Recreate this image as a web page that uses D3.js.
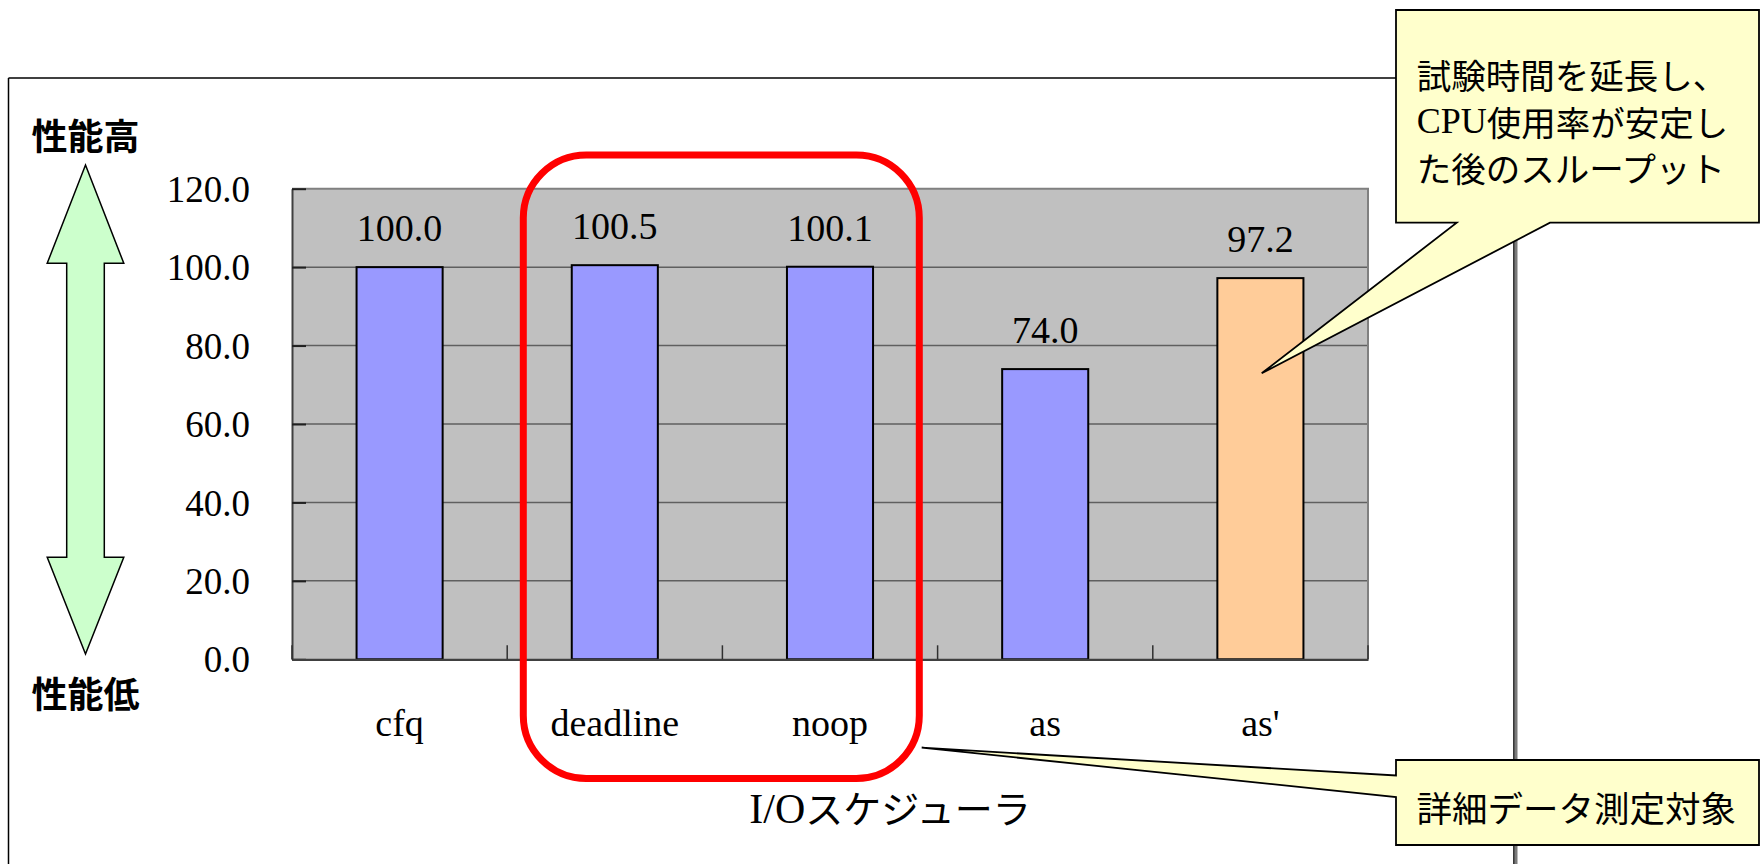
<!DOCTYPE html>
<html>
<head>
<meta charset="utf-8">
<script src="https://cdn.jsdelivr.net/npm/d3@7"></script>
<style>
  html, body { margin: 0; padding: 0; background: #ffffff; }
  svg { display: block; }
  .serif { font-family: "Liberation Serif", "DejaVu Serif", serif; }
  .gothic { font-family: "Noto Sans CJK JP", "Noto Sans", sans-serif; }
</style>
</head>
<body>
<svg id="chart" width="1761" height="864"></svg>
<script>
// Throughput per I/O scheduler (cfq = 100)
const categories = ["cfq", "deadline", "noop", "as", "as'"];
const throughput = [100.0, 100.5, 100.1, 74.0, 97.2];
const barFills = ["#9999FF", "#9999FF", "#9999FF", "#9999FF", "#FFCC99"];
const yTicks = [0, 20, 40, 60, 80, 100, 120];

const svg = d3.select("#chart");

// Plot-area geometry
const plot = { left: 292, right: 1368, top: 188.7, bottom: 659.3 };

const x = d3.scaleBand()
  .domain(categories)
  .range([plot.left, plot.right])
  .paddingInner(0.6)
  .paddingOuter(0.3);

const y = d3.scaleLinear()
  .domain([0, 120])
  .range([plot.bottom, plot.top]);

// Outer slide frame
svg.append("line").attr("x1", 8.5).attr("x2", 1500).attr("y1", 78).attr("y2", 78)
  .attr("stroke", "#000").attr("stroke-width", 1.5);
svg.append("line").attr("x1", 8.5).attr("x2", 8.5).attr("y1", 78).attr("y2", 864)
  .attr("stroke", "#000").attr("stroke-width", 1.5);
svg.append("line").attr("x1", 1515.5).attr("x2", 1515.5).attr("y1", 78).attr("y2", 864)
  .attr("stroke", "#7a7a7a").attr("stroke-width", 4);
svg.append("line").attr("x1", 1513.8).attr("x2", 1513.8).attr("y1", 78).attr("y2", 864)
  .attr("stroke", "#000").attr("stroke-width", 1);

// Plot background
svg.append("rect")
  .attr("x", plot.left).attr("y", plot.top)
  .attr("width", plot.right - plot.left).attr("height", plot.bottom - plot.top)
  .attr("fill", "#C0C0C0");

// Horizontal gridlines
svg.append("g")
  .selectAll("line")
  .data(yTicks.filter(d => d > 0 && d < 120))
  .join("line")
  .attr("x1", plot.left).attr("x2", plot.right)
  .attr("y1", d => y(d)).attr("y2", d => y(d))
  .attr("stroke", "#5f5f5f").attr("stroke-width", 1.5);

// Plot border (top and right)
svg.append("path")
  .attr("d", `M${plot.left},${plot.top}H${plot.right}V${plot.bottom}`)
  .attr("fill", "none").attr("stroke", "#808080").attr("stroke-width", 2);

// Bars
svg.append("g")
  .selectAll("rect")
  .data(categories)
  .join("rect")
  .attr("x", d => x(d))
  .attr("width", x.bandwidth())
  .attr("y", (d, i) => y(throughput[i]))
  .attr("height", (d, i) => y(0) - y(throughput[i]))
  .attr("fill", (d, i) => barFills[i])
  .attr("stroke", "#000").attr("stroke-width", 2);

// Value labels above bars
svg.append("g")
  .selectAll("text")
  .data(categories)
  .join("text")
  .attr("class", "serif")
  .attr("x", d => x(d) + x.bandwidth() / 2)
  .attr("y", (d, i) => y(throughput[i]) - 26)
  .attr("text-anchor", "middle")
  .attr("font-size", 38)
  .attr("fill", "#000")
  .text((d, i) => d3.format(".1f")(throughput[i]));

// Y axis
const yAxis = d3.axisLeft(y)
  .tickValues(yTicks)
  .tickFormat(d3.format(".1f"))
  .tickSizeInner(-14)
  .tickSizeOuter(0)
  .tickPadding(42);
const gy = svg.append("g")
  .attr("transform", `translate(${plot.left},0)`)
  .call(yAxis);
gy.select(".domain").attr("stroke", "#404040").attr("stroke-width", 2);
gy.selectAll(".tick line").attr("stroke", "#202020").attr("stroke-width", 2);
gy.selectAll(".tick text")
  .attr("class", "serif")
  .attr("font-size", 37)
  .attr("fill", "#000")
  .attr("dy", "0.34em");

// X axis: category labels, boundary ticks pointing into the plot
const step = x.step();
const boundaries = categories.map(c => x(c) + x.bandwidth() / 2 - step / 2)
  .concat([x(categories[categories.length - 1]) + x.bandwidth() / 2 + step / 2]);
const xAxis = d3.axisBottom(x).tickSize(0).tickPadding(0);
const gx = svg.append("g")
  .attr("transform", `translate(0,${plot.bottom})`)
  .call(xAxis);
gx.select(".domain").attr("stroke", "#404040").attr("stroke-width", 2.2);
gx.selectAll(".tick text")
  .attr("class", "serif")
  .attr("font-size", 38)
  .attr("fill", "#000")
  .attr("dy", null)
  .attr("y", 77);
gx.append("g")
  .selectAll("line")
  .data(boundaries)
  .join("line")
  .attr("x1", d => d).attr("x2", d => d)
  .attr("y1", 0).attr("y2", -14)
  .attr("stroke", "#303030").attr("stroke-width", 1.5);

// X axis title
const xTitle = svg.append("text")
  .attr("x", 890).attr("y", 823)
  .attr("text-anchor", "middle")
  .attr("fill", "#000");
xTitle.append("tspan").attr("class", "serif").attr("font-size", 42).text("I/O");
xTitle.append("tspan").attr("class", "gothic").attr("font-size", 38).text("スケジューラ");

// Performance direction arrow (high ↔ low)
const ax = 85.5, headW = 38.3, shaftW = 18.8;
svg.append("path")
  .attr("d", [
    `M${ax},165`,
    `L${ax + headW},263.3`, `L${ax + shaftW},263.3`,
    `L${ax + shaftW},557.3`, `L${ax + headW},557.3`,
    `L${ax},654`,
    `L${ax - headW},557.3`, `L${ax - shaftW},557.3`,
    `L${ax - shaftW},263.3`, `L${ax - headW},263.3`, "Z"
  ].join(""))
  .attr("fill", "#CCFFCC").attr("stroke", "#000").attr("stroke-width", 1.5);

svg.append("text").attr("class", "gothic")
  .attr("x", ax).attr("y", 134).attr("dominant-baseline", "central")
  .attr("text-anchor", "middle").attr("font-size", 36).attr("font-weight", "bold")
  .text("性能高");
svg.append("text").attr("class", "gothic")
  .attr("x", ax).attr("y", 692).attr("dominant-baseline", "central")
  .attr("text-anchor", "middle").attr("font-size", 36).attr("font-weight", "bold")
  .text("性能低");

// Red highlight around deadline / noop
svg.append("rect")
  .attr("x", 523.3).attr("y", 155)
  .attr("width", 919.3 - 523.3).attr("height", 778.5 - 155)
  .attr("rx", 63).attr("ry", 63)
  .attr("fill", "none").attr("stroke", "#FF0000").attr("stroke-width", 7);

// Callout: extended test run (points at the as' bar)
const c1 = { x0: 1396, y0: 10, x1: 1759, y1: 222.7 };
svg.append("path")
  .attr("d", `M${c1.x0},${c1.y0}H${c1.x1}V${c1.y1}H1550L1261.7,373.3L1456.7,${c1.y1}H${c1.x0}Z`)
  .attr("fill", "#FFFFCC").attr("stroke", "#000").attr("stroke-width", 1.8)
  .attr("stroke-linejoin", "miter");
const c1Lines = [
  [["gothic", "試験時間を延長し、"]],
  [["serif", "CPU"], ["gothic", "使用率が安定し"]],
  [["gothic", "た後のスループット"]]
];
const c1Y = [74, 120.5, 167];
c1Lines.forEach((parts, i) => {
  const t = svg.append("text")
    .attr("x", 1416.7).attr("y", c1Y[i])
    .attr("dominant-baseline", "central")
    .attr("fill", "#000");
  parts.forEach(([cls, s]) => {
    t.append("tspan").attr("class", cls)
      .attr("font-size", cls === "serif" ? 36 : 34.5)
      .text(s);
  });
});

// Callout: detailed measurement targets (points at the red box)
const c2 = { x0: 1396, y0: 760, x1: 1759, y1: 845 };
svg.append("path")
  .attr("d", `M${c2.x0},${c2.y0}H${c2.x1}V${c2.y1}H${c2.x0}V797L921.7,747.7L${c2.x0},775.5Z`)
  .attr("fill", "#FFFFCC").attr("stroke", "#000").attr("stroke-width", 1.8);
svg.append("text").attr("class", "gothic")
  .attr("x", 1416.5).attr("y", 806)
  .attr("dominant-baseline", "central")
  .attr("font-size", 35.5).attr("fill", "#000")
  .text("詳細データ測定対象");
</script>
</body>
</html>
